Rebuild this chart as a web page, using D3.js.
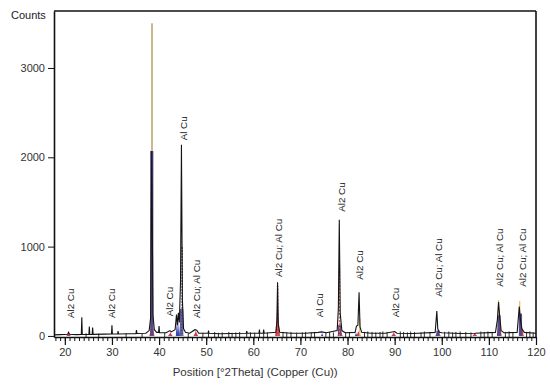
<!DOCTYPE html>
<html>
<head>
<meta charset="utf-8">
<script src="https://cdn.jsdelivr.net/npm/d3@7"></script>
<style>
  body { margin: 0; background: #fff; }
  text { font-family: "Liberation Sans", Arial, sans-serif; }
</style>
</head>
<body>
<div id="chart"></div>
<script>
// Measured pattern [2theta, counts]
const measured = [
  [17.7, 12], [19.0, 15], [20.6, 18], [20.8, 40], [21.0, 18], [22.5, 15], [23.5, 16], [23.6, 210], [23.7, 16],
  [25.1, 16], [25.2, 105], [25.3, 16], [25.8, 16], [25.9, 95], [26.0, 18], [28.5, 20], [29.9, 22], [30.0, 120],
  [30.1, 22], [31.2, 22], [31.3, 55], [31.4, 22], [33.5, 25], [35.1, 25], [35.2, 65], [35.3, 28], [37.2, 30],
  [37.9, 60], [38.2, 200], [38.45, 2070], [38.7, 240], [39.0, 70], [39.5, 40], [39.9, 40], [40.0, 110], [40.1, 35],
  [41.5, 35], [42.3, 60], [42.6, 45], [43.4, 70], [43.7, 240], [43.9, 120], [44.1, 260], [44.3, 150], [44.55, 600],
  [44.75, 2140], [44.95, 400], [45.2, 80], [45.6, 40], [46.5, 30], [47.6, 70], [48.0, 65], [48.4, 30], [50.4, 30],
  [50.5, 60], [50.6, 30], [53.0, 25], [55.0, 28], [58.5, 30], [58.6, 55], [58.7, 30], [61.2, 30], [61.3, 70],
  [61.4, 30], [62.1, 30], [62.2, 70], [62.3, 30], [64.8, 40], [65.0, 160], [65.15, 600], [65.3, 130], [65.6, 40],
  [68.0, 30], [71.0, 30], [73.8, 40], [74.5, 45], [75.5, 35], [77.8, 60], [78.05, 300], [78.25, 1300], [78.45, 250],
  [78.8, 60], [79.5, 35], [81.6, 40], [81.9, 110], [82.2, 120], [82.45, 490], [82.65, 100], [83.0, 40], [85.0, 30],
  [88.0, 30], [90.0, 50], [90.5, 30], [94.0, 28], [98.6, 40], [98.95, 280], [99.15, 80], [99.5, 40], [100.0, 35],
  [104.0, 28], [107.0, 30], [111.4, 40], [111.8, 180], [112.05, 380], [112.3, 220], [112.6, 60], [113.2, 35],
  [116.0, 40], [116.45, 330], [116.7, 180], [117.0, 80], [117.5, 40], [120.0, 30]
];

// Phase profiles drawn as small filled peaks [2theta, counts]
const redPeaks = [
  [20.8, 30], [38.5, 260], [42.4, 45], [47.8, 60], [65.15, 430], [78.4, 170], [82.3, 55], [89.8, 45],
  [99.3, 45], [107.0, 35], [112.2, 300], [116.9, 170]
];
const bluePeaks = [
  [43.8, 240], [44.2, 170], [44.9, 90], [74.6, 35], [81.8, 45], [98.9, 35], [112.0, 120]
];
const tanPeaks = [
  [38.3, 70], [78.5, 70], [65.3, 50]
];

// Reference sticks [2theta, counts]
const purpleSticks = [
  [38.45, 2070], [44.8, 300], [112.15, 230], [116.7, 250], [99.2, 60], [78.3, 120]
];
const tanSticks = [[38.5, 3500]];
const yellowSticks = [[82.6, 200], [112.05, 400], [116.55, 390]];
const salmonDashed = [[65.2, 560], [78.3, 790]];
const grayDashed = [[44.9, 1000]];

// Many short reference marks along the baseline
const minorSticks = [
  24.5, 27.2, 33.0, 36.4, 41.2, 46.2, 49.3, 50.5, 51.8, 52.6, 53.4, 54.8, 55.5, 56.3, 57.1, 58.6, 59.4, 60.3,
  61.3, 62.2, 63.0, 66.3, 67.1, 68.0, 69.2, 70.4, 71.1, 72.3, 73.0, 75.4, 76.2, 77.0, 79.6, 80.4, 83.6, 84.3,
  85.2, 86.0, 86.9, 87.5, 88.4, 91.2, 91.9, 92.7, 93.4, 94.2, 95.6, 96.3, 97.5, 100.6, 101.5, 102.3, 103.0,
  103.9, 105.1, 106.2, 108.3, 109.0, 109.8, 110.7, 113.5, 114.3, 115.1, 118.0, 118.7, 119.4
];
const minorHeights = [
  30, 25, 30, 25, 35, 30, 35, 40, 45, 35, 40, 45, 35, 40, 45, 50, 40, 35,
  45, 50, 40, 45, 40, 45, 35, 40, 45, 40, 45, 40, 45, 40, 45, 40, 45, 50,
  45, 40, 45, 50, 45, 50, 45, 40, 50, 45, 40, 50, 45, 45, 50, 40, 45,
  50, 45, 40, 50, 45, 50, 45, 45, 50, 45, 45, 50, 40
];

// Phase labels [2theta, counts at text start, text]
const labels = [
  [21.3, 200, "Al2 Cu"], [30.0, 200, "Al2 Cu"], [42.2, 220, "Al2 Cu"], [45.1, 2190, "Al Cu"],
  [48.0, 200, "Al2 Cu; Al Cu"], [65.4, 660, "Al2 Cu; Al Cu"], [74.1, 210, "Al Cu"], [78.8, 1390, "Al2 Cu"],
  [82.6, 630, "Al2 Cu"], [90.2, 210, "Al2 Cu"], [99.4, 440, "Al2 Cu; Al Cu"], [112.2, 550, "Al2 Cu; Al Cu"],
  [117.1, 550, "Al2 Cu; Al Cu"]
];

const xTicks = [20, 30, 40, 50, 60, 70, 80, 90, 100, 110, 120];
const yTicks = [0, 1000, 2000, 3000];

const margin = { top: 11, right: 14, bottom: 49, left: 54 },
  width = 550 - margin.left - margin.right,
  height = 386 - margin.top - margin.bottom;

const svg = d3.select("#chart").append("svg")
  .attr("width", 550)
  .attr("height", 386);

const g = svg.append("g")
  .attr("transform", `translate(${margin.left},${margin.top})`);

const x = d3.scaleLinear().domain([17.7, 120]).range([0, width]);
const y = d3.scaleLinear().domain([-12, 3638]).range([height, 0]);

// Baseline reference marks
g.selectAll(".minor")
  .data(minorSticks)
  .enter()
  .append("line")
    .attr("x1", d => x(d)).attr("x2", d => x(d))
    .attr("y1", y(-12)).attr("y2", (d, i) => y(minorHeights[i]))
    .attr("stroke", "#333")
    .attr("stroke-width", 1);

// Filled peak profiles
function drawPeaks(data, halfWidth, color) {
  const area = d3.area()
    .x(d => x(d[0]))
    .y0(y(0))
    .y1(d => y(d[1]));
  g.selectAll(null)
    .data(data)
    .enter()
    .append("path")
      .attr("d", d => area([[d[0] - halfWidth, 0], [d[0] - halfWidth * 0.35, d[1] * 0.5], [d[0], d[1]],
        [d[0] + halfWidth * 0.35, d[1] * 0.5], [d[0] + halfWidth, 0]]))
      .attr("fill", color)
      .attr("opacity", 0.9);
}
drawPeaks(tanPeaks, 0.5, "#e8cfa0");
drawPeaks(redPeaks, 0.5, "#c8283f");
drawPeaks(bluePeaks, 0.25, "#2433a8");

// Stick lines
function drawSticks(data, color, strokeWidth, dash) {
  g.selectAll(null)
    .data(data)
    .enter()
    .append("line")
      .attr("x1", d => x(d[0])).attr("x2", d => x(d[0]))
      .attr("y1", y(0)).attr("y2", d => y(d[1]))
      .attr("stroke", color)
      .attr("stroke-width", strokeWidth)
      .attr("stroke-dasharray", dash);
}
drawSticks(tanSticks, "#c2a874", 1.6, null);
drawSticks(yellowSticks, "#e3b548", 1.1, null);
drawSticks(purpleSticks, "#564a86", 3.2, null);
drawSticks(salmonDashed, "#e0605a", 1.4, "2,1.5");
drawSticks(grayDashed, "#6a6f9a", 1.6, "2,1");

// Measured pattern
const line = d3.line()
  .x(d => x(d[0]))
  .y(d => y(d[1]));
g.append("path")
  .datum(measured)
  .attr("fill", "none")
  .attr("stroke", "#141414")
  .attr("stroke-width", 1.1)
  .attr("d", line);

// Frame
g.append("line").attr("x1", 0).attr("x2", width).attr("y1", 0).attr("y2", 0)
  .attr("stroke", "#111").attr("stroke-width", 1.6);
g.append("line").attr("x1", width).attr("x2", width).attr("y1", 0).attr("y2", height)
  .attr("stroke", "#111").attr("stroke-width", 1.6);

// X axis with minor ticks every degree
const minorAxis = g.append("g")
  .attr("transform", `translate(0,${height})`)
  .call(d3.axisBottom(x).tickValues(d3.range(18, 121)).tickSize(4).tickFormat(""));
minorAxis.select(".domain").remove();
minorAxis.selectAll("line").attr("stroke", "#111");

const xAxis = g.append("g")
  .attr("transform", `translate(0,${height})`)
  .call(d3.axisBottom(x).tickValues(xTicks).tickSize(8).tickPadding(3).tickSizeOuter(0));
xAxis.select(".domain").attr("stroke", "#111").attr("stroke-width", 1.6);
xAxis.selectAll("line").attr("stroke", "#111").attr("stroke-width", 1.2);
xAxis.selectAll("text").style("font-size", "11px").attr("fill", "#333");

// Y axis
const yAxis = g.append("g")
  .call(d3.axisLeft(y).tickValues(yTicks).tickFormat(d3.format("d")).tickSize(6).tickPadding(3).tickSizeOuter(0));
yAxis.select(".domain").attr("stroke", "#111").attr("stroke-width", 1.6);
yAxis.selectAll("line").attr("stroke", "#111");
yAxis.selectAll("text").style("font-size", "11px").attr("fill", "#333");

// Phase labels
g.selectAll(".lbl")
  .data(labels)
  .enter()
  .append("text")
    .attr("transform", d => `translate(${x(d[0])},${y(d[1])}) rotate(-90)`)
    .attr("dy", "0.35em")
    .attr("text-anchor", "start")
    .style("font-size", "9.8px")
    .attr("fill", "#222")
    .text(d => d[2]);

// Axis titles
svg.append("text")
  .attr("x", 11).attr("y", 19)
  .style("font-size", "11px")
  .attr("fill", "#222")
  .text("Counts");

svg.append("text")
  .attr("x", margin.left + x(60.4))
  .attr("y", 376)
  .attr("text-anchor", "middle")
  .style("font-size", "11.5px")
  .attr("fill", "#333")
  .text("Position [°2Theta] (Copper (Cu))");
</script>
</body>
</html>
